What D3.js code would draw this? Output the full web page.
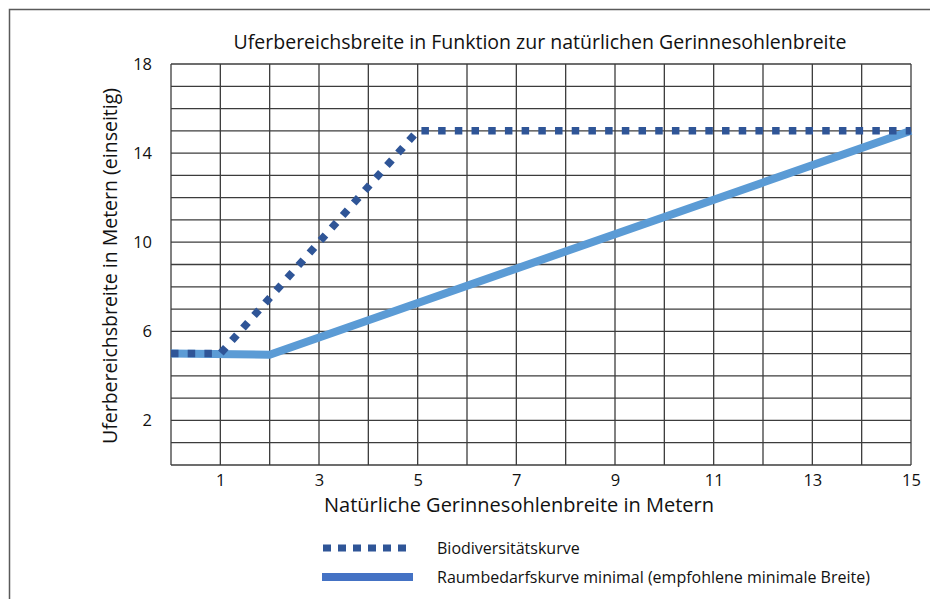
<!DOCTYPE html>
<html>
<head>
<meta charset="utf-8">
<script src="https://cdnjs.cloudflare.com/ajax/libs/d3/7.8.5/d3.min.js"></script>
<style>
  body { margin: 0; background: #fff; }
  text { font-family: "Open Sans", "Noto Sans", sans-serif; fill: #111; }
</style>
</head>
<body>
<div id="main-diagram"></div>
<script>
// data
const biodivX = [0, 1, 5, 15]
const biodivY = [5, 5, 15, 15]
const raumX = [0, 2, 15]
const raumY = [5, 4.95, 15]
const xTickLabels = [1, 3, 5, 7, 9, 11, 13, 15]
const yTickLabels = [2, 6, 10, 14, 18]
const seriesNames = ['Biodiversitätskurve', 'Raumbedarfskurve minimal (empfohlene minimale Breite)']

const width = 930
const height = 599
const plot = { left: 171, right: 911, top: 64, bottom: 465 }

const svg = d3.select('#main-diagram')
    .append('svg')
    .attr('width', width)
    .attr('height', height)

// outer frame (only top and left edges are visible in the crop)
svg.append('path')
    .attr('d', `M9.5,${height} V9.5 H${width}`)
    .attr('fill', 'none')
    .attr('stroke', '#5a5a5a')
    .attr('stroke-width', 1.5)

const x = d3.scaleLinear().domain([0, 15]).range([plot.left, plot.right])
const y = d3.scaleLinear().domain([0, 18]).range([plot.bottom, plot.top])

// grid: one line per unit
const grid = svg.append('g')
grid.selectAll('.vg')
    .data(d3.range(0, 16))
    .enter()
    .append('line')
    .attr('x1', d => x(d)).attr('x2', d => x(d))
    .attr('y1', plot.top).attr('y2', plot.bottom)
    .attr('stroke', '#3c3c3c').attr('stroke-width', 1.3)
grid.selectAll('.hg')
    .data(d3.range(0, 19))
    .enter()
    .append('line')
    .attr('y1', d => y(d)).attr('y2', d => y(d))
    .attr('x1', plot.left).attr('x2', plot.right)
    .attr('stroke', '#3c3c3c').attr('stroke-width', 1.3)

// axes labels
const xAxis = d3.axisBottom(x).tickValues(xTickLabels).tickSize(0).tickPadding(9)
svg.append('g')
    .attr('transform', `translate(0, ${plot.bottom})`)
    .call(xAxis)
    .call(g => g.select('.domain').remove())
    .selectAll('text')
    .style('font-size', '16.5px')
    .attr('fill', '#222')

const yAxis = d3.axisLeft(y).tickValues(yTickLabels).tickSize(0).tickPadding(19)
svg.append('g')
    .attr('transform', `translate(${plot.left}, 0)`)
    .call(yAxis)
    .call(g => g.select('.domain').remove())
    .selectAll('text')
    .style('font-size', '16.5px')
    .attr('fill', '#222')

// titles
svg.append('text')
    .attr('x', 540).attr('y', 49)
    .attr('text-anchor', 'middle')
    .style('font-size', '19.5px')
    .text('Uferbereichsbreite in Funktion zur natürlichen Gerinnesohlenbreite')

svg.append('text')
    .attr('x', 519).attr('y', 512)
    .attr('text-anchor', 'middle')
    .style('font-size', '20px')
    .text('Natürliche Gerinnesohlenbreite in Metern')

svg.append('text')
    .attr('transform', 'translate(117, 266) rotate(-90)')
    .attr('text-anchor', 'middle')
    .style('font-size', '19.5px')
    .text('Uferbereichsbreite in Metern (einseitig)')

// lines
const line = d3.line().x(d => x(d[0])).y(d => y(d[1]))
const raumPts = raumX.map((v, i) => [v, raumY[i]])
const bioPts = biodivX.map((v, i) => [v, biodivY[i]])

svg.append('path')
    .datum(raumPts)
    .attr('d', line)
    .attr('fill', 'none')
    .attr('stroke', '#5b9bd5')
    .attr('stroke-width', 8)
    .attr('stroke-linejoin', 'round')

svg.append('path')
    .datum(bioPts)
    .attr('d', line)
    .attr('fill', 'none')
    .attr('stroke', '#2f5597')
    .attr('stroke-width', 7.5)
    .attr('stroke-dasharray', '7.5,9.2')

// legend
const legend = svg.append('g')
legend.append('line')
    .attr('x1', 323).attr('x2', 413).attr('y1', 548).attr('y2', 548)
    .attr('stroke', '#2f5597').attr('stroke-width', 7)
    .attr('stroke-dasharray', '8,7')
legend.append('line')
    .attr('x1', 322).attr('x2', 413).attr('y1', 577).attr('y2', 577)
    .attr('stroke', '#4472c4').attr('stroke-width', 8)

legend.selectAll('.lt')
    .data(seriesNames)
    .enter()
    .append('text')
    .attr('x', 437)
    .attr('y', (d, i) => 554 + i * 29)
    .style('font-size', '16px')
    .text(d => d)
</script>
</body>
</html>
